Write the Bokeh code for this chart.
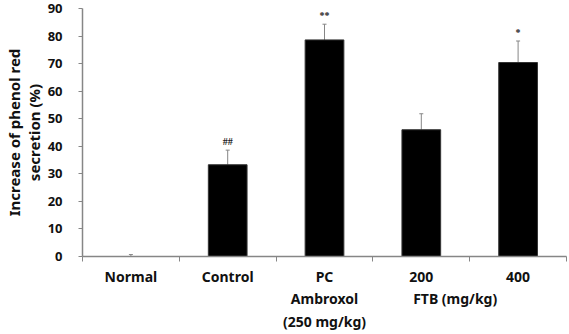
from bokeh.plotting import figure
from bokeh.models import (FixedTicker, Whisker, ColumnDataSource, LabelSet,
                          Range1d, TeeHead)
from bokeh.embed import file_html
from bokeh.resources import INLINE

# ---- data ----
groups = ["Normal", "Control", "PC", "200", "400"]
means = [0.0, 33.3, 78.6, 46.0, 70.4]
errors = [0.7, 5.3, 5.7, 5.8, 7.8]
marks = ["", "##", "**", "", "*"]
y_ticks = [0, 10, 20, 30, 40, 50, 60, 70, 80, 90]
sub_label_pc = "Ambroxol\n(250 mg/kg)"
sub_label_ftb = "FTB (mg/kg)"
sub_label_ftb_x = 3.85

FONT = "Noto Sans"
AXIS_GRAY = "#868686"
TXT = "#111111"

xs = [i + 0.5 for i in range(len(groups))]
src = ColumnDataSource(dict(
    x=xs, top=means, lower=means,
    upper=[m + e for m, e in zip(means, errors)], mark=marks,
))

p = figure(width=569, height=334, output_backend="svg", toolbar_location=None,
           x_range=Range1d(0, len(groups)), y_range=Range1d(0, 90),
           min_border_left=81, min_border_right=3, min_border_top=8,
           min_border_bottom=0)
p.outline_line_color = None
p.grid.visible = False
p.background_fill_color = "white"
p.border_fill_color = "white"

p.vbar(x="x", top="top", width=0.4, bottom=0, source=src,
       fill_color="black", line_color="#333333")

wh = Whisker(base="x", lower="lower", upper="upper", source=src,
             line_color=AXIS_GRAY, line_width=1,
             upper_head=TeeHead(size=4, line_color=AXIS_GRAY, line_width=1),
             lower_head=None)
p.add_layout(wh)

ls = LabelSet(x="x", y="upper", text="mark", source=src, y_offset=9,
              text_align="center", text_baseline="middle",
              text_font=FONT, text_font_size="10px", text_font_style="bold",
              text_color="#222222")
p.add_layout(ls)

# x axis: category labels plus the group captions on following lines
overrides = {x: g for x, g in zip(xs, groups)}
overrides[xs[2]] = groups[2] + "\n" + sub_label_pc
overrides[sub_label_ftb_x] = "\n" + sub_label_ftb
xa = p.xaxis[0]
xa.ticker = FixedTicker(ticks=sorted(xs + [sub_label_ftb_x]),
                        minor_ticks=list(range(len(groups) + 1)))
xa.major_label_overrides = overrides
xa.major_tick_line_color = None
xa.major_tick_out = 0
xa.major_tick_in = 0
xa.minor_tick_out = 5
xa.minor_tick_in = 0
xa.minor_tick_line_color = AXIS_GRAY
xa.axis_line_color = AXIS_GRAY
xa.axis_line_width = 1.5
xa.major_label_standoff = 5
xa.major_label_text_font = FONT
xa.major_label_text_font_size = "14px"
xa.major_label_text_font_style = "bold"
xa.major_label_text_color = TXT
xa.major_label_text_line_height = 1.2

# y axis
ya = p.yaxis[0]
ya.ticker = FixedTicker(ticks=y_ticks, minor_ticks=[])
ya.major_tick_out = 4
ya.major_tick_in = 0
ya.major_tick_line_color = AXIS_GRAY
ya.axis_line_color = AXIS_GRAY
ya.axis_line_width = 1.5
ya.major_label_standoff = 16
ya.major_label_text_font = FONT
ya.major_label_text_font_size = "13px"
ya.major_label_text_font_style = "bold"
ya.major_label_text_color = TXT
ya.axis_label = "Increase of phenol red\nsecretion (%)"
ya.axis_label_text_font = FONT
ya.axis_label_text_font_size = "15px"
ya.axis_label_text_font_style = "bold"
ya.axis_label_text_color = TXT
ya.axis_label_text_line_height = 1.0
ya.axis_label_standoff = 1

open("out.html", "w").write(file_html(p, INLINE))
